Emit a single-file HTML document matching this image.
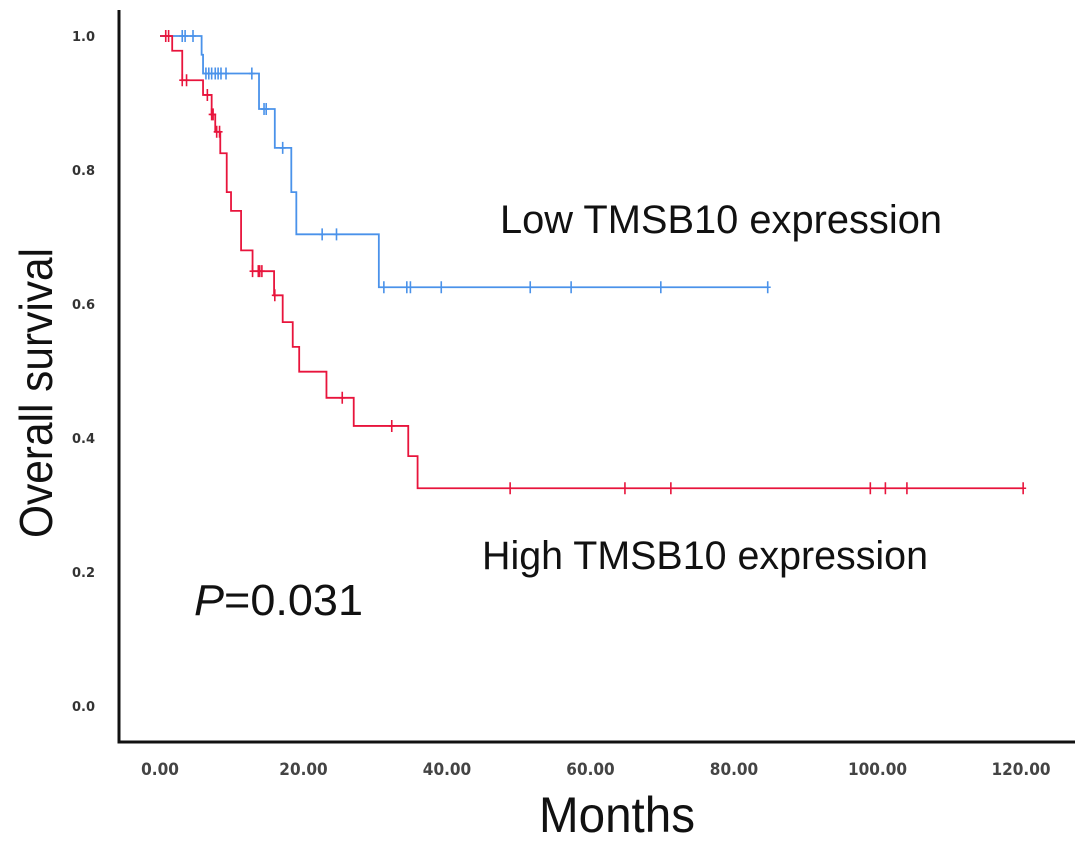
<!DOCTYPE html>
<html><head><meta charset="utf-8"><style>
html,body{margin:0;padding:0;background:#fff;}
svg{display:block;font-family:"Liberation Sans",sans-serif;}
</style></head><body>
<svg id="chart" width="1087" height="844" viewBox="0 0 1087 844">
<g id="axes"></g>
<g id="series"></g>
<text x="500" y="233" font-size="40" fill="#111" textLength="442" lengthAdjust="spacingAndGlyphs">Low TMSB10 expression</text>
<text x="482" y="569" font-size="40" fill="#111" textLength="446" lengthAdjust="spacingAndGlyphs">High TMSB10 expression</text>
<text x="194" y="615" font-size="44" fill="#111" textLength="169" lengthAdjust="spacingAndGlyphs"><tspan font-style="italic">P</tspan>=0.031</text>
<text transform="translate(52,393) rotate(-90)" text-anchor="middle" font-size="46" fill="#111" textLength="290" lengthAdjust="spacingAndGlyphs">Overall survival</text>
<text x="617" y="832" text-anchor="middle" font-size="50" fill="#111" textLength="156" lengthAdjust="spacingAndGlyphs">Months</text>
</svg>
<script>
const xTicks = [0, 20, 40, 60, 80, 100, 120];
const xTickLabels = ["0.00","20.00","40.00","60.00","80.00","100.00","120.00"];
const yTicks = [0, 0.2, 0.4, 0.6, 0.8, 1.0];
const yTickLabels = ["0.0","0.2","0.4","0.6","0.8","1.0"];
const lowTimes = [5.8, 6.0, 13.8, 16.0, 18.3, 19.0, 30.5];
const lowSurv = [0.972, 0.944, 0.891, 0.833, 0.767, 0.704, 0.625];
const lowEnd = 84.7;
const lowCensor = [3.1,3.5,4.6,6.4,6.8,7.2,7.7,8.1,8.5,9.2,12.8,14.5,14.8,17.1,22.6,24.6,31.2,34.4,34.9,39.2,51.6,57.3,69.8,84.7];
const highTimes = [1.7, 3.1, 6.0, 7.2, 7.7, 8.4, 9.3, 9.9, 11.3, 12.9, 15.9, 17.1, 18.5, 19.4, 23.2, 27.0, 34.6, 35.9];
const highSurv = [0.978, 0.934, 0.912, 0.883, 0.857, 0.825, 0.767, 0.739, 0.68, 0.649, 0.613, 0.573, 0.536, 0.499, 0.46, 0.418, 0.373, 0.325];
const highEnd = 120.3;
const highCensor = [0.8,1.2,3.1,3.7,6.6,7.2,7.4,7.9,8.3,12.9,13.7,13.9,14.2,16.0,25.4,32.3,48.8,64.8,71.2,99.0,101.1,104.1,120.3];

const NS = "http://www.w3.org/2000/svg";
const xs = t => 160 + t * 7.175;
const ys = s => 706 - s * 670;
function mk(tag, attrs, parent){const e=document.createElementNS(NS,tag);for(const k in attrs)e.setAttribute(k,attrs[k]);parent.appendChild(e);return e;}
const axes = document.getElementById('axes');
const series = document.getElementById('series');

let a = mk('path',{d:'M119,10 V742 H1075',fill:'none',stroke:'#111','stroke-width':3},axes);


xTicks.forEach((v,i)=>{
  const t = mk('text',{x:xs(v),y:775,'text-anchor':'middle','font-size':17,'font-weight':'bold',fill:'#444','font-family':'DejaVu Sans Condensed, DejaVu Sans, sans-serif'},axes);
  t.textContent = xTickLabels[i];
  
  
});
yTicks.forEach((v,i)=>{
  const t = mk('text',{x:95,y:ys(v)+5,'text-anchor':'end','font-size':13,'font-weight':'bold',fill:'#333','font-family':'DejaVu Sans, sans-serif'},axes);
  t.textContent = yTickLabels[i];
  
  
});

function survAt(times, surv, t){let s=1;for(let i=0;i<times.length;i++){if(times[i]<=t)s=surv[i];}return s;}
function drawCurve(times, surv, end, censor, color, name){
  let d = 'M'+xs(0)+','+ys(1);
  for(let i=0;i<times.length;i++){d+=' H'+xs(times[i])+' V'+ys(surv[i]);}
  d += ' H'+xs(end);
  const p = mk('path',{d:d,fill:'none',stroke:color,'stroke-width':1.8},series);
  
  
  censor.forEach(t=>{
    const x=xs(t), y=ys(survAt(times,surv,t));
    const c = mk('path',{d:'M'+x+','+(y-6)+' V'+(y+6)+' M'+(x-3)+','+y+' H'+(x+3),stroke:color,'stroke-width':1.6,fill:'none'},series);
    
    
  });
}
drawCurve(lowTimes, lowSurv, lowEnd, lowCensor, '#4a92ea', 'low-expression');
drawCurve(highTimes, highSurv, highEnd, highCensor, '#e8143c', 'high-expression');
</script>
</body></html>
